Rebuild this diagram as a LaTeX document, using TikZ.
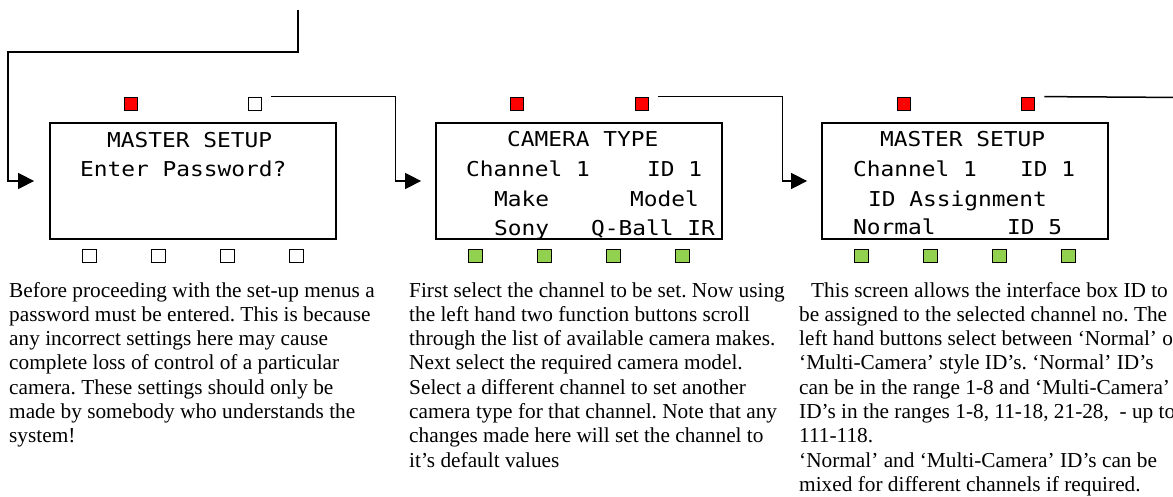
\documentclass[tikz,border=0pt]{standalone}
\usepackage{fontspec}
\setmainfont{Liberation Serif}
\newfontfamily\lcdfont[FakeStretch=1.114]{DejaVu Sans Mono}
\usetikzlibrary{arrows.meta}
\definecolor{btnred}{RGB}{255,0,0}
\definecolor{btngreen}{RGB}{146,208,80}
\frenchspacing
\begin{document}
\begin{tikzpicture}[x=1pt,y=-1pt,
  screen/.style={draw, line width=1.8pt, minimum width=286pt, minimum height=116pt, inner sep=0pt},
  btn/.style={draw, line width=1.4pt, minimum size=13.5pt, inner sep=0pt},
  redbtn/.style={btn, fill=btnred},
  greenbtn/.style={btn, fill=btngreen},
  whitebtn/.style={btn, fill=white},
  conn/.style={line width=1.5pt, -{Triangle[length=16pt,width=16pt]}},
  plainconn/.style={line width=1.5pt},
  lcd/.style={anchor=base west, inner sep=0pt, font=\lcdfont\fontsize{20.5}{24}\selectfont},
  body/.style={anchor=base west, inner sep=0pt, font=\fontsize{21.3}{24}\selectfont}]
\useasboundingbox (0,0) rectangle (1173,497);

% screens
\node[screen] (box1) at (193,181) {};
\node[screen] (box2) at (579,181) {};
\node[screen] (box3) at (965,181) {};

% top buttons
\node[redbtn]   (t1a) at (131,104) {};
\node[whitebtn] (t1b) at (255,104) {};
\node[redbtn]   (t2a) at (517,104) {};
\node[redbtn]   (t2b) at (642,104) {};
\node[redbtn]   (t3a) at (904,104) {};
\node[redbtn]   (t3b) at (1028,104) {};

% bottom buttons
\foreach \x [count=\i] in {89.5,158.5,227.5,296.5} \node[whitebtn] (b1\i) at (\x,256) {};
\foreach \x [count=\i] in {475.5,544.5,613.5,682.5} \node[greenbtn] (b2\i) at (\x,256) {};
\foreach \x [count=\i] in {861.5,930.5,999.5,1068.5} \node[greenbtn] (b3\i) at (\x,256) {};

% screen texts
\node[lcd] (s1l1) at (107,148) {MASTER SETUP};
\node[lcd] (s1l2) at (80,177) {Enter Password?};

\node[lcd] (s2l1) at (507,147) {CAMERA TYPE};
\node[lcd] (s2l2a) at (466,177) {Channel 1};
\node[lcd] (s2l2b) at (647,177) {ID 1};
\node[lcd] (s2l3a) at (494,207) {Make};
\node[lcd] (s2l3b) at (630,207) {Model};
\node[lcd] (s2l4a) at (494,236) {Sony};
\node[lcd] (s2l4b) at (591,236) {Q-Ball IR};

\node[lcd] (s3l1) at (880,147) {MASTER SETUP};
\node[lcd] (s3l2a) at (853,177) {Channel 1};
\node[lcd] (s3l2b) at (1020,177) {ID 1};
\node[lcd] (s3l3) at (868,207) {ID Assignment};
\node[lcd] (s3l4a) at (853,235) {Normal};
\node[lcd] (s3l4b) at (1007,235) {ID 5};

% connectors
\coordinate (in0) at (298,10);
\coordinate (out3) at (1185,97.5);
\draw[conn, shorten >=15pt] (in0) -- ++(0,42) -- ++(-290,0) |- (box1.west);
\draw[conn, shorten <=9pt, shorten >=14pt] (t1b.north east) -- ++(133,0) |- (box2.west);
\draw[conn, shorten <=9pt, shorten >=14pt] (t2b.north east) -- ++(133,0) |- (box3.west);
\draw[plainconn, shorten <=9pt] (t3b.north east) -- (out3);

% descriptions
\foreach \t [count=\i from 0] in {
  {Before proceeding with the set-up menus a},
  {password must be entered. This is because},
  {any incorrect settings here may cause},
  {complete loss of control of a particular},
  {camera. These settings should only be},
  {made by somebody who understands the},
  {system!}}
  \node[body] (da\i) at (9,{297+24.3*\i}) {\t};

\foreach \t [count=\i from 0] in {
  {First select the channel to be set. Now using},
  {the left hand two function buttons scroll},
  {through the list of available camera makes.},
  {Next select the required camera model.},
  {Select a different channel to set another},
  {camera type for that channel. Note that any},
  {changes made here will set the channel to},
  {it’s default values}}
  \node[body] (db\i) at (409,{297+24.3*\i}) {\t};

\node[body] (dc0) at (811,297) {This screen allows the interface box ID to};
\foreach \t [count=\i from 1] in {
  {be assigned to the selected channel no. The},
  {left hand buttons select between ‘Normal’ or},
  {‘Multi-Camera’ style ID’s. ‘Normal’ ID’s},
  {can be in the range 1-8 and ‘Multi-Camera’},
  {ID’s in the ranges 1-8, 11-18, 21-28,\ \ - up to},
  {111-118.},
  {‘Normal’ and ‘Multi-Camera’ ID’s can be},
  {mixed for different channels if required.}}
  \node[body] (dc\i) at (799,{297+24.3*\i}) {\t};
\end{tikzpicture}
\end{document}
